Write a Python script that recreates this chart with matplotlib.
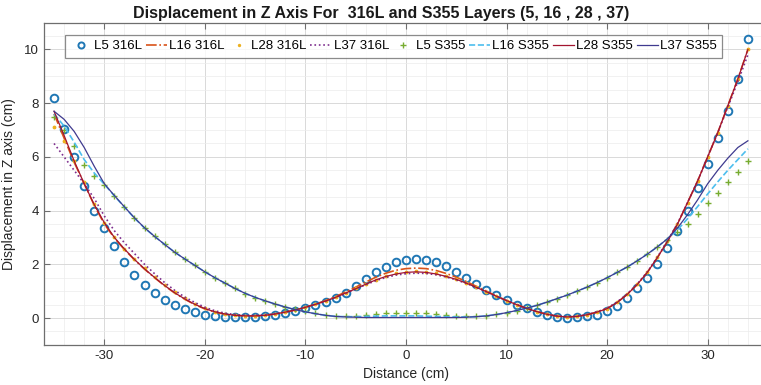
import numpy as np
import matplotlib
matplotlib.use("Agg")
import matplotlib.pyplot as plt
from matplotlib.ticker import MultipleLocator

plt.rcParams["font.family"] = ["Liberation Sans", "DejaVu Sans"]
plt.rcParams["axes.unicode_minus"] = False

# distance samples (cm)
distance = np.arange(-35, 35)

l5_316l = [8.2, 7.05, 6.0, 4.9, 4.0, 3.35, 2.7, 2.1, 1.6, 1.24,
           0.94, 0.69, 0.5, 0.34, 0.21, 0.12, 0.07, 0.04, 0.02, 0.02,
           0.03, 0.06, 0.11, 0.18, 0.27, 0.37, 0.48, 0.6, 0.75, 0.95,
           1.2, 1.45, 1.7, 1.9, 2.07, 2.17, 2.2, 2.17, 2.08, 1.92,
           1.72, 1.5, 1.27, 1.05, 0.85, 0.66, 0.5, 0.36, 0.22, 0.11,
           0.04, 0.01, 0.02, 0.06, 0.13, 0.25, 0.45, 0.75, 1.1, 1.5,
           2.0, 2.6, 3.25, 4.0, 4.85, 5.75, 6.7, 7.7, 8.9, 10.4]

l16_316l = [7.6, 6.7, 5.8, 5.0, 4.2, 3.5, 2.98, 2.55, 2.17, 1.82,
            1.5, 1.2, 0.93, 0.7, 0.5, 0.34, 0.22, 0.14, 0.1, 0.08,
            0.08, 0.1, 0.15, 0.22, 0.3, 0.4, 0.52, 0.65, 0.8, 0.97,
            1.15, 1.34, 1.52, 1.67, 1.78, 1.84, 1.86, 1.84, 1.77, 1.66,
            1.52, 1.36, 1.18, 1.0, 0.82, 0.65, 0.5, 0.36, 0.24, 0.14,
            0.07, 0.04, 0.06, 0.12, 0.22, 0.35, 0.58, 0.88, 1.25, 1.7,
            2.25, 2.85, 3.5, 4.3, 5.1, 6.0, 6.9, 7.9, 8.9, 10.0]

l28_316l = [7.1, 6.6, 5.85, 5.05, 4.25, 3.55, 3.02, 2.58, 2.2, 1.85,
            1.53, 1.23, 0.96, 0.73, 0.52, 0.36, 0.24, 0.16, 0.11, 0.09,
            0.09, 0.11, 0.16, 0.23, 0.31, 0.41, 0.52, 0.64, 0.78, 0.94,
            1.1, 1.27, 1.43, 1.56, 1.66, 1.72, 1.74, 1.72, 1.66, 1.57,
            1.45, 1.31, 1.15, 0.98, 0.81, 0.65, 0.5, 0.36, 0.24, 0.14,
            0.07, 0.04, 0.06, 0.12, 0.22, 0.35, 0.58, 0.88, 1.26, 1.71,
            2.26, 2.86, 3.52, 4.3, 5.1, 6.0, 6.9, 7.9, 8.9, 10.0]

l37_316l = [6.5, 6.0, 5.5, 5.0, 4.45, 3.8, 3.25, 2.8, 2.4, 2.0,
            1.65, 1.32, 1.03, 0.78, 0.58, 0.4, 0.27, 0.18, 0.13, 0.1,
            0.1, 0.12, 0.16, 0.22, 0.3, 0.4, 0.51, 0.63, 0.77, 0.92,
            1.08, 1.24, 1.39, 1.51, 1.6, 1.65, 1.67, 1.66, 1.61, 1.53,
            1.42, 1.29, 1.14, 0.98, 0.81, 0.65, 0.5, 0.36, 0.24, 0.14,
            0.08, 0.05, 0.07, 0.13, 0.23, 0.37, 0.6, 0.9, 1.27, 1.72,
            2.27, 2.87, 3.52, 4.3, 5.1, 6.0, 6.9, 7.85, 8.8, 9.8]

l5_s355 = [7.5, 7.0, 6.4, 5.7, 5.3, 4.95, 4.54, 4.12, 3.71, 3.35,
           3.04, 2.74, 2.45, 2.2, 1.96, 1.72, 1.5, 1.3, 1.1, 0.91,
           0.76, 0.63, 0.52, 0.42, 0.33, 0.25, 0.18, 0.13, 0.09, 0.07,
           0.09, 0.12, 0.15, 0.17, 0.18, 0.19, 0.18, 0.17, 0.15, 0.12,
           0.09, 0.07, 0.07, 0.09, 0.14, 0.2, 0.28, 0.37, 0.47, 0.59,
           0.72, 0.85, 1.0, 1.15, 1.32, 1.5, 1.7, 1.9, 2.13, 2.38,
           2.64, 2.92, 3.2, 3.52, 3.88, 4.27, 4.67, 5.07, 5.45, 5.85]

l16_s355 = [7.6, 7.15, 6.55, 5.9, 5.4, 4.98, 4.55, 4.13, 3.72, 3.35,
            3.04, 2.74, 2.45, 2.2, 1.96, 1.72, 1.5, 1.3, 1.1, 0.92,
            0.77, 0.64, 0.52, 0.41, 0.31, 0.23, 0.16, 0.1, 0.06, 0.05,
            0.05, 0.06, 0.07, 0.08, 0.08, 0.08, 0.08, 0.07, 0.06, 0.05,
            0.04, 0.04, 0.05, 0.08, 0.13, 0.2, 0.28, 0.37, 0.47, 0.59,
            0.72, 0.85, 1.0, 1.15, 1.32, 1.5, 1.7, 1.9, 2.13, 2.38,
            2.65, 2.95, 3.28, 3.7, 4.15, 4.62, 5.07, 5.5, 5.9, 6.3]

l28_s355 = [7.7, 6.8, 5.85, 5.0, 4.22, 3.55, 3.0, 2.57, 2.18, 1.83,
            1.51, 1.21, 0.94, 0.71, 0.51, 0.35, 0.23, 0.15, 0.1, 0.08,
            0.08, 0.1, 0.15, 0.22, 0.3, 0.4, 0.51, 0.63, 0.77, 0.93,
            1.09, 1.26, 1.42, 1.55, 1.64, 1.7, 1.72, 1.7, 1.64, 1.55,
            1.44, 1.3, 1.14, 0.98, 0.81, 0.65, 0.5, 0.36, 0.24, 0.14,
            0.07, 0.04, 0.06, 0.12, 0.22, 0.35, 0.58, 0.88, 1.25, 1.7,
            2.25, 2.85, 3.5, 4.3, 5.1, 6.0, 6.9, 7.9, 8.9, 10.0]

l37_s355 = [7.7, 7.4, 6.95, 6.35, 5.65, 5.0, 4.56, 4.14, 3.73, 3.36,
            3.04, 2.74, 2.45, 2.2, 1.96, 1.72, 1.5, 1.3, 1.1, 0.92,
            0.77, 0.64, 0.52, 0.41, 0.31, 0.23, 0.16, 0.1, 0.06, 0.04,
            0.03, 0.02, 0.02, 0.02, 0.02, 0.02, 0.02, 0.02, 0.02, 0.02,
            0.02, 0.03, 0.05, 0.08, 0.13, 0.2, 0.28, 0.37, 0.47, 0.59,
            0.72, 0.85, 1.0, 1.15, 1.32, 1.5, 1.7, 1.9, 2.13, 2.38,
            2.65, 2.95, 3.35, 3.85, 4.4, 5.0, 5.5, 5.95, 6.35, 6.6]

fig = plt.figure(figsize=(7.61, 3.85), dpi=100)
ax = fig.add_axes([0.0578, 0.1042, 0.9514, 0.837])

ax.plot(distance, l5_316l, "o", color="#1f77b4", mfc="none", ms=5.5, mew=1.4, label="L5 316L")
ax.plot(distance, l16_316l, "-.", color="#d95319", lw=1.2, label="L16 316L")
ax.plot(distance, l28_316l, ".", color="#edb120", ms=3.5, label="L28 316L")
ax.plot(distance, l37_316l, ":", color="#7e2f8e", lw=1.2, label="L37 316L")
ax.plot(distance, l5_s355, "+", color="#77ac30", ms=5, mew=1.0, label="L5 S355")
ax.plot(distance, l16_s355, "--", color="#4dbeee", lw=1.2, label="L16 S355")
ax.plot(distance, l28_s355, "-", color="#a2142f", lw=0.9, label="L28 S355")
ax.plot(distance, l37_s355, "-", color="#3f3a8f", lw=0.9, label="L37 S355")

ax.set_xlim(-36, 36)
ax.set_ylim(-1, 11)
ax.xaxis.set_minor_locator(MultipleLocator(2))
ax.yaxis.set_minor_locator(MultipleLocator(0.5))
ax.set_xticks(np.arange(-30, 31, 10))
ax.set_yticks(np.arange(0, 11, 2))

ax.grid(which="major", color="#d9d9d9", lw=0.7)
ax.grid(which="minor", color="#ececec", lw=0.5)
ax.set_axisbelow(True)
for s in ax.spines.values():
    s.set_color("#6e6e6e")
    s.set_linewidth(0.9)
ax.tick_params(which="both", direction="in", top=True, right=True,
               labelsize=9.5, colors="#6e6e6e", labelcolor="#262626")
ax.tick_params(which="major", length=4)
ax.tick_params(which="minor", length=0)

ax.set_xlabel("Distance (cm)", fontsize=10, color="#262626", labelpad=4)
ax.set_ylabel("Displacement in Z axis (cm)", fontsize=10, color="#262626", labelpad=6)
ax.set_title("Displacement in Z Axis For  316L and S355 Layers (5, 16 , 28 , 37)",
             fontsize=11.5, fontweight="bold", color="#1a1a1a", pad=3.5, x=0.466)

leg = ax.legend(loc="upper center", bbox_to_anchor=(0.483, 0.962), ncol=8,
                fontsize=9.5, frameon=True, fancybox=False, handlelength=1.6,
                handletextpad=0.15, columnspacing=0.3, borderpad=0.4,
                borderaxespad=0, markerscale=0.8)
leg.get_frame().set_edgecolor("#6e6e6e")
leg.get_frame().set_linewidth(0.9)

fig.savefig("out.png", dpi=100)
